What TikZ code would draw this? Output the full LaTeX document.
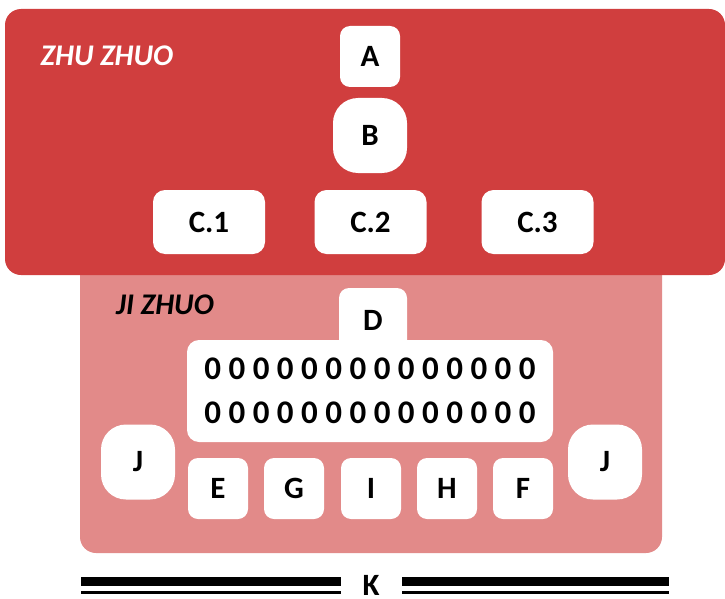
\documentclass[tikz,border=0pt]{standalone}
\usepackage{fontspec}
\setmainfont{Carlito}
\definecolor{zhured}{RGB}{208,62,62}
\definecolor{jipink}{RGB}{226,138,137}
\begin{document}
\begin{tikzpicture}[x=1pt,y=-1pt,
    lbl/.style={font=\fontsize{31}{36}\bfseries\selectfont},
    whitebox/.style={lbl,fill=white,rounded corners=10pt,inner sep=0pt},
    roundbox/.style={whitebox,rounded corners=25pt,minimum width=74pt,minimum height=75pt},
    smallbox/.style={whitebox,minimum width=60pt,minimum height=61pt},
    cbox/.style={whitebox,rounded corners=12pt,minimum width=112pt,minimum height=64pt},
    title/.style={font=\fontsize{30}{36}\bfseries\itshape\selectfont}]
    \useasboundingbox (0,0) rectangle (725,599);
    % the two panels
    \fill[jipink,rounded corners=16pt] (80,255) rectangle (662,553);
    \fill[zhured,rounded corners=16pt] (5,9) rectangle (725,275);
    \draw (107,56) node[title,text=white] (zhu) {ZHU ZHUO};
    \draw (165,305) node[title] (ji) {JI ZHUO};
    % upper panel
    \draw (370,56.5) node[smallbox,minimum height=61pt] (a) {A};
    \draw (370,135.5) node[roundbox] (b) {B};
    \draw (209,222) node[cbox] (c1) {C.1};
    \draw (370.5,222) node[cbox] (c2) {C.2};
    \draw (537.5,222) node[cbox] (c3) {C.3};
    % lower panel
    \draw (373,320) node[whitebox,minimum width=68pt,minimum height=64pt] (d) {D};
    \draw (370,391) node[whitebox,rounded corners=12pt,minimum width=366pt,minimum height=102pt,
        align=center,font=\fontsize{33}{44}\bfseries\selectfont] (zeros)
        {0 0 0 0 0 0 0 0 0 0 0 0 0 0\\0 0 0 0 0 0 0 0 0 0 0 0 0 0};
    \draw (138,462) node[roundbox] (j1) {J};
    \draw (605,462) node[roundbox] (j2) {J};
    \foreach \x/\n in {218/E,294/G,371/I,447/H,523/F}
        {
            \draw (\x,488.5) node[smallbox] (\n) {\n};
        }
    % bottom rule
    \draw (371,595) node[lbl,anchor=base,inner sep=0pt] (k) {K};
    \draw[line width=8.5pt] (81,581.5) -- (341,581.5);
    \draw[line width=3pt] (81,592.5) -- (341,592.5);
    \draw[line width=8.5pt] (402,581.5) -- (669,581.5);
    \draw[line width=3pt] (402,592.5) -- (669,592.5);
\end{tikzpicture}
\end{document}
